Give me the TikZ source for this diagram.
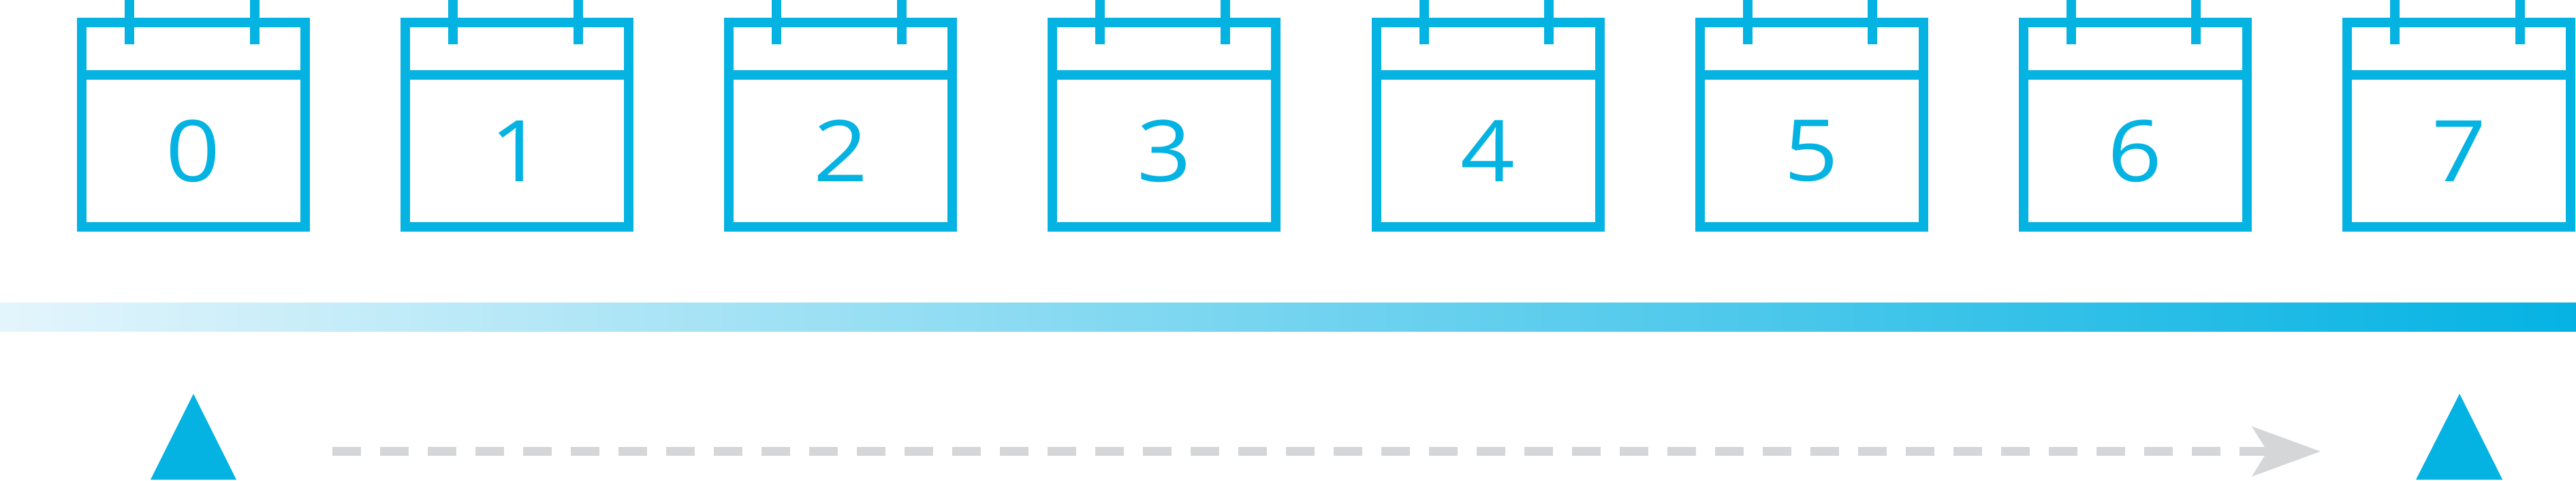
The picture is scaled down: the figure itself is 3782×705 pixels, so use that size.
\documentclass[tikz,border=0pt]{standalone}
\usepackage{fontspec}
\usetikzlibrary{arrows.meta}
\setmainfont[FakeStretch=1.12]{Open Sans}
\definecolor{calblue}{HTML}{05B3E3}
\definecolor{barlight}{HTML}{E3F5FC}
\definecolor{dashgray}{HTML}{D5D6D8}
\tikzset{
  calbox/.style={draw=calblue,line width=14pt,rectangle,minimum width=328pt,minimum height=300pt,inner sep=0pt,outer sep=0pt},
  calline/.style={draw=calblue,line width=14pt},
  calnum/.style={text=calblue,inner sep=0pt,font=\fontsize{125}{125}\selectfont},
  marker/.style={fill=calblue,draw=none},
  flowline/.style={draw=dashgray,line width=13pt,dash pattern=on 42pt off 28pt,-{Stealth[length=100pt,width=72pt,inset=22pt]}},
}
\begin{document}
\begin{tikzpicture}[x=1pt,y=-1pt]
\useasboundingbox (0,0) rectangle (3782,705);
\foreach \i/\d in {0/0,1/1,2/2,3/3,4/4,5/5,6/6,7/7}{
  \pgfmathsetmacro{\xc}{284+475.14*\i}
  \pgfmathsetmacro{\xa}{\xc-171+77}
  \pgfmathsetmacro{\xb}{\xc-171+260.5}
  \node[calbox] (cal\i) at (\xc,183.3) {};
  \coordinate (pinA\i) at (\xa,0);
  \coordinate (pinB\i) at (\xb,0);
  \coordinate (pinAe\i) at (\xa,65.3);
  \coordinate (pinBe\i) at (\xb,65.3);
  \coordinate (divL\i) at (\xc-171,110.3);
  \coordinate (divR\i) at (\xc+171,110.3);
  \draw[calline] (pinA\i) -- (pinAe\i);
  \draw[calline] (pinB\i) -- (pinBe\i);
  \draw[calline] (divL\i) -- (divR\i);
  \node[calnum] (num\i) at (\xc,221.5) {\d};
}
\shade[left color=barlight,right color=calblue,middle color=barlight!50!calblue] (0,444.3) rectangle (3782,486);
\coordinate (t0a) at (284,578);
\coordinate (t0b) at (347,704);
\coordinate (t0c) at (221,704);
\fill[marker] (t0a) -- (t0b) -- (t0c) -- cycle;
\coordinate (t1a) at (3611,578);
\coordinate (t1b) at (3674,704);
\coordinate (t1c) at (3547,704);
\fill[marker] (t1a) -- (t1b) -- (t1c) -- cycle;
\coordinate (flowS) at (488,662.6);
\coordinate (flowE) at (3407,662.6);
\draw[flowline] (flowS) -- (flowE);
\end{tikzpicture}
\end{document}
